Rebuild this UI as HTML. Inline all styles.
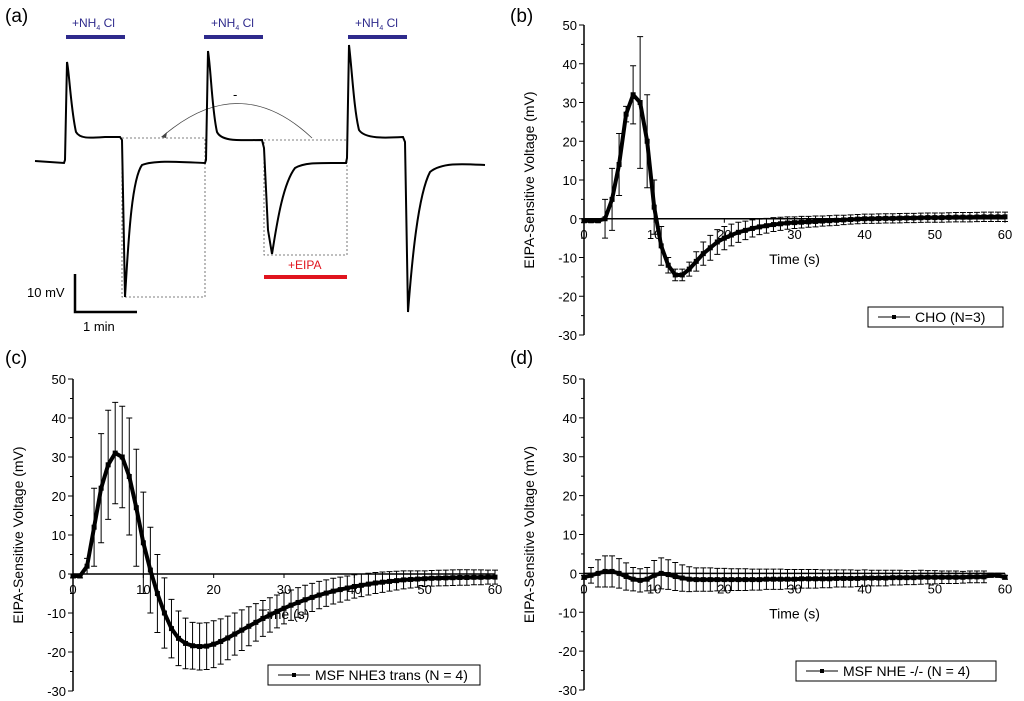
<!DOCTYPE html>
<html><head><meta charset="utf-8"><style>
html,body{margin:0;padding:0;background:#fff}
svg{display:block;font-family:"Liberation Sans",Arial,sans-serif}
</style></head><body>
<svg id="fig" width="1024" height="701" viewBox="0 0 1024 701">
<g id="panelA">
<text x="5" y="22" font-size="19">(a)</text>
<rect x="66" y="35" width="59" height="4" fill="#2e2a8c"/>
<rect x="204" y="35" width="59" height="4" fill="#2e2a8c"/>
<rect x="348" y="35" width="59" height="4" fill="#2e2a8c"/>
<text x="72" y="27" font-size="12" fill="#2e2a8c">+NH<tspan font-size="7" dy="3">4</tspan><tspan dy="-3"> Cl</tspan></text>
<text x="211" y="27" font-size="12" fill="#2e2a8c">+NH<tspan font-size="7" dy="3">4</tspan><tspan dy="-3"> Cl</tspan></text>
<text x="355" y="27" font-size="12" fill="#2e2a8c">+NH<tspan font-size="7" dy="3">4</tspan><tspan dy="-3"> Cl</tspan></text>
<rect x="264" y="275" width="83" height="4" fill="#e0141e"/>
<text x="288" y="269" font-size="12" fill="#e0141e">+EIPA</text>
<g fill="none" stroke="#555" stroke-width="0.8" stroke-dasharray="2,2">
<rect x="122" y="138" width="83" height="159"/>
<rect x="264" y="140" width="83" height="115"/>
</g>
<path d="M312,138 Q240,70 163,136" fill="none" stroke="#444" stroke-width="0.8"/>
<path d="M161,137 l6,-5 l-1,6 z" fill="#444"/>
<text x="233" y="99" font-size="13">-</text>
<path fill="none" stroke="#000" stroke-width="2" d="M35,161 L64,163 L65,160 L67,62 C69,70 71,110 76,132 C80,139 90,138 105,137 L120,137 L122,140 L125,297 C128,250 131,180 142,165 C155,160 180,162 205,163 L206,160 L208,51 C211,70 212,110 217,132 C222,142 240,140 262,140 L264,148 L268,230 L272,254 C276,230 282,185 295,168 C305,162 320,163 346,163 L347,158 L349,45 C352,70 354,110 359,130 C365,139 385,138 403,137 L405,142 L408,312 C412,260 418,195 430,172 C442,162 465,164 485,165"/>
<path d="M75,274 V312 H137" fill="none" stroke="#000" stroke-width="2.5"/>
<text x="27" y="297" font-size="13">10 mV</text>
<text x="83" y="331" font-size="13">1 min</text>
</g>
<g id="panelB"></g><g id="panelC"></g><g id="panelD"></g>
</svg>
<script>
const times = [0,1,2,3,4,5,6,7,8,9,10,11,12,13,14,15,16,17,18,19,20,21,22,23,24,25,26,27,28,29,30,31,32,33,34,35,36,37,38,39,40,41,42,43,44,45,46,47,48,49,50,51,52,53,54,55,56,57,58,59,60];
const yTicks = [-30,-20,-10,0,10,20,30,40,50];
const xTicks = [0,10,20,30,40,50,60];
const choValues = [-0.5,-0.5,-0.5,0,5,14,27,32,30,20,3,-7,-12,-14.5,-14.5,-13,-11,-9,-7.5,-6,-5,-4.2,-3.5,-3,-2.5,-2.1,-1.8,-1.5,-1.3,-1.1,-1,-0.9,-0.8,-0.7,-0.6,-0.5,-0.4,-0.3,-0.2,-0.1,0,0,0.05,0.1,0.1,0.15,0.2,0.2,0.25,0.3,0.3,0.3,0.35,0.4,0.4,0.4,0.45,0.5,0.5,0.5,0.5];
const choErrors = [0.5,0.5,0.5,5,8,8,2,7.5,17,12,7,5,2,1.5,1.5,1.8,2.5,3,3.2,3.2,3,2.8,2.6,2.4,2.2,2,1.9,1.8,1.7,1.6,1.5,1.5,1.4,1.4,1.3,1.3,1.3,1.2,1.2,1.2,1.2,1.2,1.2,1.2,1.2,1.2,1.2,1.2,1.2,1.2,1.2,1.2,1.2,1.2,1.2,1.2,1.2,1.2,1.2,1.2,1.2];
const nhe3Values = [-0.5,-0.5,2,12,22,28,31,30,25,17,8,1,-5,-10,-14,-16.5,-17.8,-18.4,-18.6,-18.5,-18,-17.3,-16.4,-15.4,-14.4,-13.4,-12.4,-11.4,-10.5,-9.6,-8.8,-8,-7.3,-6.6,-6,-5.4,-4.9,-4.4,-4,-3.6,-3.2,-2.9,-2.6,-2.3,-2.1,-1.9,-1.7,-1.5,-1.4,-1.3,-1.2,-1.1,-1.05,-1,-0.95,-0.9,-0.9,-0.85,-0.85,-0.8,-0.8];
const nhe3Errors = [0.5,0.5,2,10,14,14,13,13,15,15,13,11,10,9,7.5,7,6.5,6,6,6,6,5.8,5.6,5.4,5.2,5,4.8,4.6,4.4,4.2,4,3.9,3.8,3.7,3.6,3.5,3.4,3.3,3.2,3.1,3,2.9,2.8,2.7,2.6,2.5,2.4,2.3,2.2,2.1,2,2,2,2,2,2,2,1.9,1.9,1.8,1.8];
const nheKoValues = [-1,-0.5,0,0.5,0.5,0,-0.8,-1.5,-1.8,-1.5,-0.5,0,-0.3,-0.8,-1.2,-1.5,-1.6,-1.6,-1.6,-1.6,-1.6,-1.6,-1.6,-1.6,-1.6,-1.6,-1.5,-1.5,-1.5,-1.5,-1.5,-1.4,-1.4,-1.4,-1.4,-1.4,-1.3,-1.3,-1.3,-1.3,-1.2,-1.2,-1.2,-1.2,-1.1,-1.1,-1.1,-1.1,-1,-1,-1,-1,-1,-1,-1,-0.9,-0.9,-0.9,-0.5,-0.5,-1];
const nheKoErrors = [0.5,2,3.5,4,4,3.8,3.5,3,3,3,3.8,4,3.8,3.6,3.4,3.2,3,3,3,2.9,2.9,2.8,2.8,2.8,2.7,2.7,2.6,2.6,2.6,2.5,2.5,2.4,2.4,2.4,2.3,2.3,2.2,2.2,2.2,2.1,2.1,2,2,2,1.9,1.9,1.8,1.8,1.8,1.7,1.7,1.6,1.6,1.6,1.5,1.5,1.5,1.5,0.5,0.5,0.5];

const NS='http://www.w3.org/2000/svg';
function mk(parent,tag,attrs){const e=document.createElementNS(NS,tag);for(const k in attrs)e.setAttribute(k,attrs[k]);parent.appendChild(e);return e;}

function panel(gid,cfg,values,errors,legendText){
  const g=document.getElementById(gid);
  
  
  const xs=v=>cfg.x0+(v-0)/60*(cfg.x1-cfg.x0);
  const ys=v=>cfg.yTop+(50-v)/80*(cfg.yBot-cfg.yTop);
  const lbl=mk(g,'text',{x:cfg.lx,y:cfg.ly,'font-size':19});
  lbl.textContent=cfg.label;
  
  
  const ya=mk(g,'line',{x1:cfg.x0,x2:cfg.x0,y1:cfg.yTop,y2:cfg.yBot,stroke:'#000','stroke-width':1.5});
  
  
  const xa=mk(g,'line',{x1:cfg.x0,x2:cfg.x1,y1:ys(0),y2:ys(0),stroke:'#000','stroke-width':1.5});
  
  
  yTicks.forEach(t=>{
    mk(g,'line',{x1:cfg.x0-5,x2:cfg.x0,y1:ys(t),y2:ys(t),stroke:'#000','stroke-width':1});
    if(t<50) mk(g,'line',{x1:cfg.x0-3,x2:cfg.x0,y1:ys(t+5),y2:ys(t+5),stroke:'#000','stroke-width':1});
    const tx=mk(g,'text',{x:cfg.x0-7,y:ys(t)+5,'font-size':13,'text-anchor':'end'});
    tx.textContent=t;
    
    
  });
  xTicks.forEach(t=>{
    mk(g,'line',{x1:xs(t),x2:xs(t),y1:ys(0),y2:ys(0)+4,stroke:'#000','stroke-width':1});
    const tx=mk(g,'text',{x:xs(t),y:ys(0)+20,'font-size':13,'text-anchor':'middle'});
    tx.textContent=t;
    
    
  });
  const yt=mk(g,'text',{x:0,y:0,'font-size':14,'text-anchor':'middle',transform:`translate(${cfg.x0-50},${(cfg.yTop+cfg.yBot)/2}) rotate(-90)`});
  yt.textContent='EIPA-Sensitive Voltage (mV)';
  
  
  const xt=mk(g,'text',{x:xs(30),y:ys(0)+45,'font-size':14,'text-anchor':'middle'});
  xt.textContent='Time (s)';
  
  
  times.forEach((t,i)=>{
    const x=xs(t),yh=ys(values[i]+errors[i]),yl=ys(values[i]-errors[i]);
    const eb=mk(g,'path',{d:`M${x},${yh}V${yl}M${x-3},${yh}H${x+3}M${x-3},${yl}H${x+3}`,stroke:'#000','stroke-width':1,fill:'none'});
    
    
  });
  let d='';
  times.forEach((t,i)=>{d+=(i?'L':'M')+xs(t)+','+ys(values[i]);});
  const ln=mk(g,'path',{d:d,stroke:'#000','stroke-width':4,fill:'none','stroke-linejoin':'round'});
  
  
  times.forEach((t,i)=>{
    const m=mk(g,'rect',{x:xs(t)-2.5,y:ys(values[i])-2.5,width:5,height:5,fill:'#000'});
    
    
  });
  const lg=mk(g,'g',{});
  
  
  mk(lg,'rect',{x:cfg.lgx,y:cfg.lgy,width:cfg.lgw,height:20,fill:'#fff',stroke:'#000','stroke-width':1});
  mk(lg,'line',{x1:cfg.lgx+10,x2:cfg.lgx+42,y1:cfg.lgy+10,y2:cfg.lgy+10,stroke:'#000','stroke-width':1});
  mk(lg,'rect',{x:cfg.lgx+24,y:cfg.lgy+8,width:4,height:4,fill:'#000'});
  const lt=mk(lg,'text',{x:cfg.lgx+47,y:cfg.lgy+15,'font-size':14});
  lt.textContent=legendText;
}
panel('panelB',{name:'panel-b-cho',label:'(b)',lx:510,ly:22,x0:584,x1:1005,yTop:25,yBot:335,lgx:868,lgy:307,lgw:135},choValues,choErrors,'CHO (N=3)');
panel('panelC',{name:'panel-c-nhe3',label:'(c)',lx:5,ly:364,x0:73,x1:495,yTop:379,yBot:691,lgx:268,lgy:665,lgw:212},nhe3Values,nhe3Errors,'MSF NHE3 trans (N = 4)');
panel('panelD',{name:'panel-d-nhe-ko',label:'(d)',lx:510,ly:364,x0:584,x1:1005,yTop:379,yBot:690,lgx:796,lgy:661,lgw:200},nheKoValues,nheKoErrors,'MSF NHE -/-  (N = 4)');
</script>
</body></html>
